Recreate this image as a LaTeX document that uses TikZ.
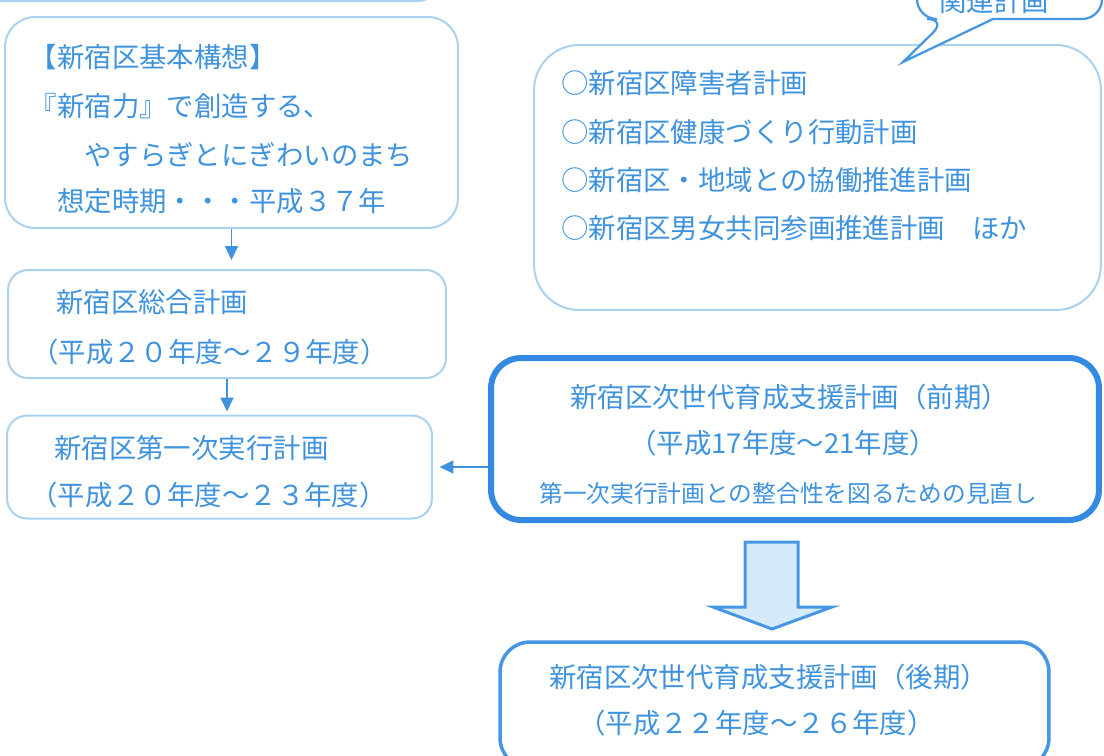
\documentclass[tikz,border=0pt]{standalone}
\usepackage{fontspec}
\setmainfont{Noto Sans CJK JP}
\usetikzlibrary{arrows.meta}

\definecolor{txtblue}{RGB}{62,146,222}
\definecolor{paleline}{RGB}{168,210,240}
\definecolor{deepline}{RGB}{52,138,226}
\definecolor{midline}{RGB}{70,150,228}
\definecolor{arrowfill}{RGB}{214,235,250}

\begin{document}
\begin{tikzpicture}[x=0.02cm, y=-0.02cm,
    txt/.style={text=txtblue, inner sep=0pt, anchor=west, font=\fontsize{15.6}{18}\selectfont},
    smalltxt/.style={txt, font=\fontsize{13.5}{16}\selectfont}]
\useasboundingbox (0,0) rectangle (1104,755);
\clip (0,0) rectangle (1104,755);

\begin{scope}[every node/.style={draw=paleline, line width=0.04cm, rounded corners=0.4cm, inner sep=0pt}]
    \node (prevbox) at (209, -29.5) [minimum width=9.16cm, minimum height=1.22cm] {};

    \node (concept) at (231.5, 122.5) [minimum width=9.06cm, minimum height=4.22cm, rounded corners=0.6cm] {};
    \node (master) at (227, 324) [minimum width=8.76cm, minimum height=2.16cm] {};
    \node (firstplan) at (219.5, 467) [minimum width=8.5cm, minimum height=2.06cm] {};

    \node (related) at (817.5, 177.5) [minimum width=11.34cm, minimum height=5.3cm, rounded corners=0.9cm] {};

    \node (early) at (795, 439) [minimum width=12.16cm, minimum height=3.24cm, draw=deepline, line width=0.12cm, rounded corners=0.6cm] {};
    \node (late) at (774.5, 705) [minimum width=10.98cm, minimum height=2.52cm, draw=midline, line width=0.07cm, rounded corners=0.6cm] {};
\end{scope}

% callout over the related plans
\draw [midline, line width=0.045cm, fill=white] (947,19) -- (903,62) -- (993,19) [rounded corners=0.4cm] -- (1102,19) -- (1102,-60) -- (917,-60) -- (917,19) -- cycle;
\node[txt] (reltitle) at (939, 1) {関連計画};

% texts
\node[txt] (conhead) at (29.5, 57) {【新宿区基本構想】};
\node[txt] (conline1) at (29.5, 106) {『新宿力』で創造する、};
\node[txt] (conline2) at (84, 155) {やすらぎとにぎわいのまち};
\node[txt] (conterm) at (57, 201) {想定時期・・・平成３７年};

\node[txt] (mastername) at (56, 302) {新宿区総合計画};
\node[txt] (masterterm) at (31, 352) {（平成２０年度～２９年度）};

\node[txt] (firstname) at (54, 448) {新宿区第一次実行計画};
\node[txt] (firstterm) at (30, 495) {（平成２０年度～２３年度）};

\node[txt] (rel1) at (561, 83) {○新宿区障害者計画};
\node[txt] (rel2) at (561, 132) {○新宿区健康づくり行動計画};
\node[txt] (rel3) at (561, 180) {○新宿区・地域との協働推進計画};
\node[txt] (rel4) at (561, 228) {○新宿区男女共同参画推進計画　ほか};

\node[txt] (earlyname) at (570, 397) {新宿区次世代育成支援計画（前期）};
\node[txt] (earlyterm) at (629, 443) {（平成17年度～21年度）};
\node[smalltxt] (earlynote) at (539, 493) {第一次実行計画との整合性を図るための見直し};

\node[txt] (latename) at (549, 677) {新宿区次世代育成支援計画（後期）};
\node[txt] (lateterm) at (578, 723) {（平成２２年度～２６年度）};

\begin{scope}[>={Triangle[length=0.28cm, width=0.26cm]},
              every edge/.style={draw=txtblue, line width=0.035cm}]
    \path [->] (concept.south) edge [shorten >=0.18cm] (concept.south |- master.north);
    \path [->] (master.south) edge [shorten >=0.06cm] (master.south |- firstplan.north);
    \path [->] (early.west |- firstplan.east) edge [shorten >=0.13cm] (firstplan.east);
\end{scope}

% big arrow from early to late plan
\draw [midline, line width=0.06cm, fill=arrowfill, line join=miter] (745,542) -- (798,542) -- (798,607) -- (832,607) -- (772,629) -- (713,607) -- (745,607) -- cycle;
\end{tikzpicture}
\end{document}
